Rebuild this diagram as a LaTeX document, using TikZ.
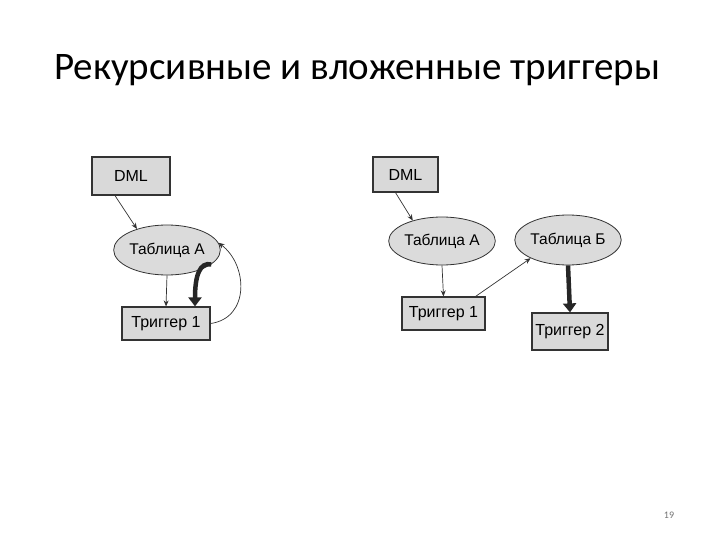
\documentclass[tikz,border=0pt]{standalone}
\usepackage{fontspec}
\setmainfont{Carlito}
\newfontfamily\diagfont{Liberation Sans}
\usetikzlibrary{shapes.geometric,arrows.meta}
\begin{document}
\begin{tikzpicture}[x=1pt,y=-1pt,
  boxnode/.style={draw=black!80,line width=1.2pt,fill=black!15,font=\diagfont\fontsize{16}{18}\selectfont,inner sep=0pt,minimum height=#1},
  ellnode/.style={ellipse,draw=black!80,line width=0.8pt,fill=black!14,font=\diagfont\fontsize{15.5}{18}\selectfont,inner sep=0pt},
  thin/.style={draw=black!80,line width=0.7pt,-{Stealth[length=6pt,width=5pt]}},
  thick/.style={draw=black!85,line width=4.5pt,-{Triangle[length=9pt,width=13pt]}}
]
\useasboundingbox (0,0) rectangle (720,540);
\node[font=\fontsize{39}{43}\selectfont] (title) at (357,70) {Рекурсивные и вложенные триггеры};
\node[font=\fontsize{10}{12}\selectfont,text=black!55] (pg) at (669,515) {19};

% left diagram
\node[boxnode=38pt,minimum width=78pt] (dml1) at (131,176) {DML};
\node[ellnode,minimum width=100pt,minimum height=50pt] (ta1) at (167,250) {Таблица А};
\node[boxnode=33pt,minimum width=88pt] (tr1) at (166,323.5) {Триггер 1};
\draw[thin] ([xshift=-16pt]dml1.south) -- (ta1.145);
\draw[thin] (ta1.south) -- (tr1.north);
\draw[thick] (ta1.-18) .. controls (200,262) and (195,275) .. ([xshift=29pt]tr1.north);
\draw[thin] (tr1.east) .. controls (250,318) and (248,265) .. (ta1.8);

% right diagram
\node[boxnode=35pt,minimum width=65pt] (dml2) at (405.5,174.5) {DML};
\node[ellnode,minimum width=89pt,minimum height=48pt] (ta2) at (442,241) {Таблица А};
\node[ellnode,minimum width=87pt,minimum height=50pt] (tb2) at (568,240) {Таблица Б};
\node[boxnode=33pt,minimum width=83pt] (tr21) at (443.5,313.5) {Триггер 1};
\node[boxnode=37pt,minimum width=76pt] (tr22) at (570,331.5) {Триггер 2};
\draw[thin] ([xshift=-10pt]dml2.south) -- (ta2.145);
\draw[thin] (ta2.south) -- (tr21.north);
\draw[thin] ([xshift=-10pt]tr21.north east) -- (tb2.206);
\draw[thick] (tb2.south) -- (tr22.north);
\end{tikzpicture}
\end{document}
